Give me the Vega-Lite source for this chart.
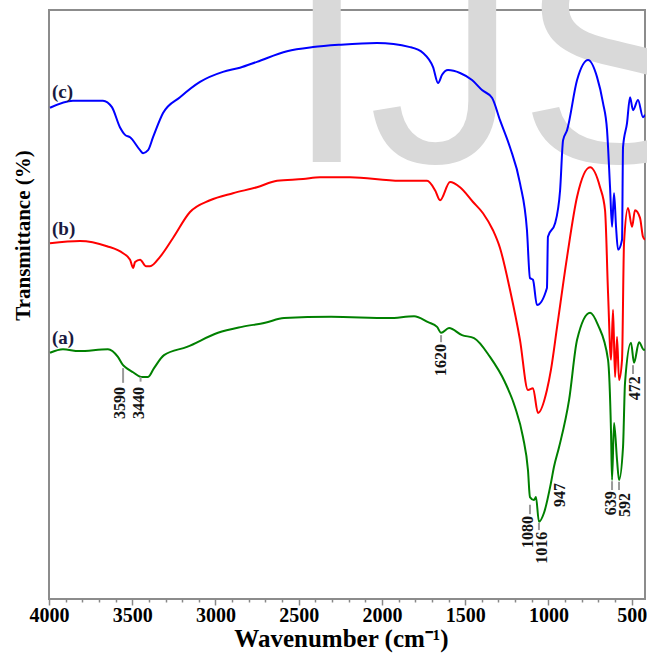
{
  "$schema": "https://vega.github.io/schema/vega-lite/v6.json",
  "width": 596,
  "height": 589,
  "autosize": {"type": "none"},
  "padding": {"left": 49, "top": 10, "right": 2, "bottom": 54},
  "background": "white",
  "config": {"view": {"stroke": "#8c8c8c", "strokeWidth": 2}},
  "datasets": {
    "spectra": [
      {"s":"c","wn":3994,"t":83.4},{"s":"c","wn":3856,"t":84.6},{"s":"c","wn":3676,"t":84.6},{"s":"c","wn":3622,"t":83.5},{"s":"c","wn":3574,"t":80.1},{"s":"c","wn":3543,"t":78.8},{"s":"c","wn":3513,"t":78.4},{"s":"c","wn":3453,"t":76.2},{"s":"c","wn":3435,"t":75.7},{"s":"c","wn":3405,"t":76.2},{"s":"c","wn":3375,"t":78.4},{"s":"c","wn":3315,"t":82.5},{"s":"c","wn":3213,"t":85.2},{"s":"c","wn":3093,"t":87.8},{"s":"c","wn":2955,"t":89.5},{"s":"c","wn":2853,"t":90.2},{"s":"c","wn":2751,"t":91.2},{"s":"c","wn":2570,"t":93.0},{"s":"c","wn":2414,"t":93.7},{"s":"c","wn":2252,"t":94.1},{"s":"c","wn":2030,"t":94.4},{"s":"c","wn":1831,"t":93.7},{"s":"c","wn":1753,"t":92.7},{"s":"c","wn":1693,"t":90.3},{"s":"c","wn":1663,"t":87.6},{"s":"c","wn":1639,"t":89.0},{"s":"c","wn":1603,"t":89.8},{"s":"c","wn":1531,"t":89.3},{"s":"c","wn":1459,"t":88.1},{"s":"c","wn":1399,"t":86.4},{"s":"c","wn":1339,"t":85.1},{"s":"c","wn":1291,"t":81.3},{"s":"c","wn":1231,"t":76.7},{"s":"c","wn":1171,"t":70.6},{"s":"c","wn":1129,"t":62.6},{"s":"c","wn":1111,"t":54.5},{"s":"c","wn":1093,"t":54.2},{"s":"c","wn":1069,"t":49.9},{"s":"c","wn":1009,"t":52.8},{"s":"c","wn":1003,"t":61.5},{"s":"c","wn":960,"t":63.8},{"s":"c","wn":930,"t":69.4},{"s":"c","wn":912,"t":77.9},{"s":"c","wn":888,"t":79.6},{"s":"c","wn":828,"t":88.1},{"s":"c","wn":762,"t":91.5},{"s":"c","wn":708,"t":88.6},{"s":"c","wn":672,"t":84.2},{"s":"c","wn":648,"t":79.6},{"s":"c","wn":630,"t":69.9},{"s":"c","wn":618,"t":63.2},{"s":"c","wn":606,"t":68.9},{"s":"c","wn":594,"t":63.2},{"s":"c","wn":582,"t":59.3},{"s":"c","wn":558,"t":61.0},{"s":"c","wn":552,"t":76.7},{"s":"c","wn":528,"t":80.8},{"s":"c","wn":510,"t":85.2},{"s":"c","wn":492,"t":83.0},{"s":"c","wn":462,"t":84.7},{"s":"c","wn":432,"t":81.8},{"s":"c","wn":420,"t":82.2},
      {"s":"b","wn":3994,"t":60.4},{"s":"b","wn":3814,"t":60.8},{"s":"b","wn":3652,"t":59.9},{"s":"b","wn":3555,"t":58.7},{"s":"b","wn":3513,"t":57.6},{"s":"b","wn":3495,"t":56.2},{"s":"b","wn":3483,"t":57.2},{"s":"b","wn":3453,"t":57.6},{"s":"b","wn":3417,"t":56.5},{"s":"b","wn":3393,"t":56.5},{"s":"b","wn":3333,"t":58.1},{"s":"b","wn":3255,"t":61.3},{"s":"b","wn":3153,"t":65.7},{"s":"b","wn":3033,"t":67.7},{"s":"b","wn":2895,"t":68.9},{"s":"b","wn":2751,"t":69.9},{"s":"b","wn":2630,"t":71.0},{"s":"b","wn":2474,"t":71.3},{"s":"b","wn":2372,"t":71.6},{"s":"b","wn":2192,"t":71.6},{"s":"b","wn":1892,"t":71.0},{"s":"b","wn":1729,"t":71.0},{"s":"b","wn":1681,"t":69.4},{"s":"b","wn":1651,"t":67.7},{"s":"b","wn":1591,"t":70.8},{"s":"b","wn":1531,"t":69.9},{"s":"b","wn":1453,"t":67.4},{"s":"b","wn":1393,"t":65.5},{"s":"b","wn":1333,"t":62.6},{"s":"b","wn":1291,"t":59.6},{"s":"b","wn":1231,"t":52.5},{"s":"b","wn":1171,"t":44.0},{"s":"b","wn":1123,"t":35.5},{"s":"b","wn":1093,"t":35.8},{"s":"b","wn":1063,"t":31.6},{"s":"b","wn":1009,"t":35.5},{"s":"b","wn":985,"t":38.9},{"s":"b","wn":948,"t":46.2},{"s":"b","wn":888,"t":58.1},{"s":"b","wn":828,"t":68.3},{"s":"b","wn":750,"t":73.3},{"s":"b","wn":690,"t":69.9},{"s":"b","wn":660,"t":66.0},{"s":"b","wn":642,"t":52.0},{"s":"b","wn":624,"t":40.6},{"s":"b","wn":612,"t":49.1},{"s":"b","wn":600,"t":37.7},{"s":"b","wn":588,"t":44.5},{"s":"b","wn":576,"t":37.2},{"s":"b","wn":558,"t":40.6},{"s":"b","wn":546,"t":60.4},{"s":"b","wn":522,"t":66.4},{"s":"b","wn":498,"t":63.2},{"s":"b","wn":480,"t":66.0},{"s":"b","wn":450,"t":64.7},{"s":"b","wn":432,"t":61.5},{"s":"b","wn":420,"t":61.0},
      {"s":"a","wn":3994,"t":41.8},{"s":"a","wn":3916,"t":42.4},{"s":"a","wn":3820,"t":42.1},{"s":"a","wn":3646,"t":42.4},{"s":"a","wn":3586,"t":41.1},{"s":"a","wn":3555,"t":39.7},{"s":"a","wn":3543,"t":39.4},{"s":"a","wn":3495,"t":38.5},{"s":"a","wn":3447,"t":37.7},{"s":"a","wn":3405,"t":37.7},{"s":"a","wn":3369,"t":39.2},{"s":"a","wn":3309,"t":41.4},{"s":"a","wn":3171,"t":42.8},{"s":"a","wn":2985,"t":45.2},{"s":"a","wn":2841,"t":46.2},{"s":"a","wn":2702,"t":46.9},{"s":"a","wn":2588,"t":47.7},{"s":"a","wn":2306,"t":47.9},{"s":"a","wn":1958,"t":47.7},{"s":"a","wn":1807,"t":48.0},{"s":"a","wn":1723,"t":47.0},{"s":"a","wn":1669,"t":46.2},{"s":"a","wn":1645,"t":45.2},{"s":"a","wn":1597,"t":46.0},{"s":"a","wn":1519,"t":44.8},{"s":"a","wn":1447,"t":44.3},{"s":"a","wn":1351,"t":41.1},{"s":"a","wn":1261,"t":36.8},{"s":"a","wn":1201,"t":32.6},{"s":"a","wn":1153,"t":27.5},{"s":"a","wn":1123,"t":21.9},{"s":"a","wn":1111,"t":17.3},{"s":"a","wn":1087,"t":16.8},{"s":"a","wn":1075,"t":17.3},{"s":"a","wn":1057,"t":13.1},{"s":"a","wn":1027,"t":14.6},{"s":"a","wn":985,"t":19.7},{"s":"a","wn":967,"t":22.4},{"s":"a","wn":936,"t":25.8},{"s":"a","wn":876,"t":33.8},{"s":"a","wn":828,"t":44.0},{"s":"a","wn":750,"t":48.6},{"s":"a","wn":702,"t":46.5},{"s":"a","wn":642,"t":40.6},{"s":"a","wn":624,"t":28.2},{"s":"a","wn":618,"t":20.2},{"s":"a","wn":606,"t":29.9},{"s":"a","wn":588,"t":23.6},{"s":"a","wn":576,"t":20.2},{"s":"a","wn":552,"t":25.8},{"s":"a","wn":540,"t":36.7},{"s":"a","wn":504,"t":43.5},{"s":"a","wn":486,"t":40.1},{"s":"a","wn":456,"t":43.6},{"s":"a","wn":426,"t":42.3},{"s":"a","wn":420,"t":42.3}
    ],
    "peaks": [
      {"lab":"3590","wn":3574,"tw":3555,"t1":39.2,"t2":36.7,"ly":36.0},
      {"lab":"3440","wn":3462,"tw":3450,"t1":37.7,"t2":36.9,"ly":36.0},
      {"lab":"1620","wn":1645,"tw":1645,"t1":44.8,"t2":43.6,"ly":43.3},
      {"lab":"1080","wn":1123,"tw":1111,"t1":16.0,"t2":14.4,"ly":14.1},
      {"lab":"1016","wn":1039,"tw":1057,"t1":12.9,"t2":11.7,"ly":11.4},
      {"lab":"947","wn":930,"ly":19.7},
      {"lab":"639","wn":624,"tw":618,"t1":20.0,"t2":18.5,"ly":18.3},
      {"lab":"592","wn":540,"tw":576,"t1":19.9,"t2":18.5,"ly":18.0},
      {"lab":"472","wn":480,"tw":492,"t1":39.7,"t2":38.2,"ly":37.8}
    ],
    "series": [
      {"lab":"(c)","wn":3982,"t":85.1},
      {"lab":"(b)","wn":3982,"t":61.8},
      {"lab":"(a)","wn":3982,"t":43.3}
    ]
  },
  "resolve": {"axis": {"x": "independent", "y": "independent"}},
  "layer": [
    {
      "data": {"values": [{"txt":"IJS","wn":2582,"t":74.2}]},
      "mark": {"type":"text","font":"Liberation Sans","fontSize":300,"color":"#d9d9d9","align":"left","baseline":"alphabetic"},
      "encoding": {
        "x": {"field":"wn","type":"quantitative","scale":{"domain":[4000,420],"nice":false,"zero":false},"axis":null},
        "y": {"field":"t","type":"quantitative","scale":{"domain":[0,100],"nice":false},"axis":null},
        "text": {"field":"txt"}
      }
    },
    {
      "data": {"name":"spectra"},
      "mark": {"type":"line","strokeWidth":2,"clip":true,"interpolate":"monotone"},
      "encoding": {
        "x": {"field":"wn","type":"quantitative","scale":{"domain":[4000,420],"nice":false,"zero":false},
          "axis": {"orient":"bottom","values":[4000,3500,3000,2500,2000,1500,1000,500],"format":"d","tickSize":6,"tickColor":"#888888","tickWidth":1.5,"domain":false,"grid":false,
            "labelFont":"Liberation Serif","labelFontWeight":"bold","labelFontSize":20,"labelColor":"black","labelPadding":0,"labelFlush":false,
            "title":"Wavenumber (cm⁻¹)","titleFont":"Liberation Serif","titleFontWeight":"bold","titleFontSize":25,"titleColor":"black","titleBaseline":"alphabetic","titleY":47,"titleX":292}},
        "y": {"field":"t","type":"quantitative","scale":{"domain":[0,100],"nice":false},
          "axis": {"orient":"left","labels":false,"ticks":false,"domain":false,"grid":false,"title":"Transmittance (%)","titleFont":"Liberation Serif","titleFontWeight":"bold","titleFontSize":21,"titleColor":"black","titleAngle":270,"titleAlign":"center","titleBaseline":"middle","titleX":-26,"titleY":225}},
        "color": {"field":"s","type":"nominal","scale":{"domain":["a","b","c"],"range":["#008000","#ff0000","#0000ff"]},"legend":null},
        "order": {"field":"wn","type":"quantitative","sort":"descending"}
      }
    },
    {
      "data": {"name":"peaks"},
      "transform": [{"filter":"isValid(datum.tw)"}],
      "mark": {"type":"rule","color":"#9a9a9a","strokeWidth":2},
      "encoding": {
        "x": {"field":"tw","type":"quantitative","scale":{"domain":[4000,420],"nice":false,"zero":false},
          "axis": {"orient":"bottom","values":[3900,3800,3700,3600,3400,3300,3200,3100,2900,2800,2700,2600,2400,2300,2200,2100,1900,1800,1700,1600,1400,1300,1200,1100,900,800,700,600],"tickSize":3,"tickColor":"#888888","tickWidth":1.5,"labels":false,"domain":false,"grid":false,"title":null}},
        "y": {"field":"t1","type":"quantitative","scale":{"domain":[0,100],"nice":false},"axis":null},
        "y2": {"field":"t2"}
      }
    },
    {
      "data": {"name":"peaks"},
      "mark": {"type":"text","font":"Liberation Serif","fontWeight":"bold","fontSize":16,"color":"#151515","angle":270,"align":"right","baseline":"middle"},
      "encoding": {
        "x": {"field":"wn","type":"quantitative","scale":{"domain":[4000,420],"nice":false,"zero":false},"axis":null},
        "y": {"field":"ly","type":"quantitative","scale":{"domain":[0,100],"nice":false},"axis":null},
        "text": {"field":"lab"}
      }
    },
    {
      "data": {"name":"series"},
      "mark": {"type":"text","font":"Liberation Serif","fontWeight":"bold","fontSize":19,"color":"#1a1a40","align":"left","baseline":"alphabetic"},
      "encoding": {
        "x": {"field":"wn","type":"quantitative","scale":{"domain":[4000,420],"nice":false,"zero":false},"axis":null},
        "y": {"field":"t","type":"quantitative","scale":{"domain":[0,100],"nice":false},"axis":null},
        "text": {"field":"lab"}
      }
    }
  ]
}
